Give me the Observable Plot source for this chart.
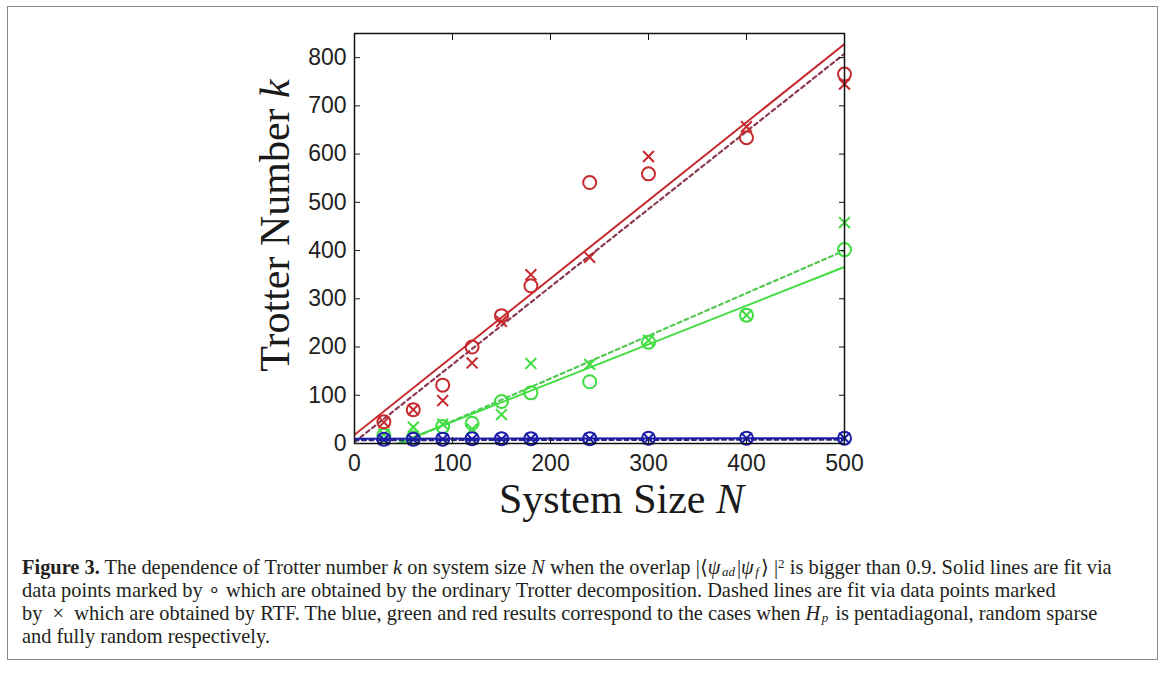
<!DOCTYPE html>
<html><head><meta charset="utf-8">
<script src="https://cdn.jsdelivr.net/npm/d3@7"></script>
<script src="https://cdn.jsdelivr.net/npm/@observablehq/plot@0.6"></script>
<style>
html,body{margin:0;padding:0;background:#fff;}
body{width:1168px;height:673px;position:relative;overflow:hidden;}
#border{position:absolute;left:7px;top:6px;width:1151px;height:654px;border:1.5px solid #8a8a8a;box-sizing:border-box;}
#chart{position:absolute;left:0;top:0;}
#caption{position:absolute;left:22px;top:556px;font-family:"Liberation Serif","Times New Roman",serif;font-size:19px;line-height:23px;color:#231f20;white-space:nowrap;}
#caption .ln{display:block;}
#caption .ln span.w{display:inline-block;}
sub,sup{font-size:64%;line-height:0;}
sub{vertical-align:-0.15em;margin-left:0.5px;margin-right:2px;}
sup{vertical-align:0.45em;}
i.g{padding-right:1px;}
</style></head><body>
<div id="border"></div>
<div id="chart"></div>
<div id="caption">
<div class="ln"><span class="w" id="l1"><b>Figure 3.</b> The dependence of Trotter number <i>k</i> on system size <i>N</i> when the overlap |⟨<i class="g">ψ</i><sub><i>ad</i></sub>|<i class="g">ψ</i><sub><i>f</i></sub>⟩ |<sup>2</sup> is bigger than 0.9. Solid lines are fit via</span></div>
<div class="ln"><span class="w">data points marked by ∘ which are obtained by the ordinary Trotter decomposition. Dashed lines are fit via data points marked</span></div>
<div class="ln"><span class="w">by &nbsp;×&nbsp; which are obtained by RTF. The blue, green and red results correspond to the cases when <i class="g">H</i><sub><i>p</i></sub> is pentadiagonal, random sparse</span></div>
<div class="ln"><span class="w">and fully random respectively.</span></div>
</div>
<script>
// ---- data ----
const N = [30, 60, 90, 120, 150, 180, 240, 300, 400, 500];
const redTrotter   = [45, 70, 121, 200, 265, 327, 541, 559, 634, 766];
const redRTF       = [44, 70, 89, 167, 253, 350, 386, 595, 657, 745];
const greenTrotter = [17, 12, 35, 42, 87, 105, 128, 210, 266, 402];
const greenRTF     = [19, 34, 40, 30, 60, 166, 164, 214, 266, 458];
const blueTrotter  = [9, 9, 9, 10, 10, 10, 10, 11, 11, 11];
const blueRTF      = [8, 8, 9, 9, 9, 10, 10, 10, 11, 11];

const fitX = [0, 500];
const redSolidFit   = [18, 828];
const redDashedFit  = [3, 808];
const greenSolidFit = [-35, 366];
const greenDashedFit= [-42, 400];
const blueSolidFit  = [10, 11];
const blueDashedFit = [7, 8];

const xTicks = [0, 100, 200, 300, 400, 500];
const yTicks = [0, 100, 200, 300, 400, 500, 600, 700, 800];
const xLabel = "System Size N";
const yLabel = "Trotter Number k";

const RED = "#c62a2f", RED_D = "#8c3a52";
const GREEN = "#3fdc3f", GREEN_D = "#55c955";
const BLUE = "#1c1caa", BLUE_D = "#26267a";

const pts = (ys) => N.map((n, i) => ({n, k: ys[i]}));
const fit = (ys) => fitX.map((x, i) => ({x, y: ys[i]}));

function series(tro, rtf, solid, dashed, c, cd) {
  return [
    Plot.line(fit(dashed), {x: "x", y: "y", stroke: cd, strokeWidth: 2.2, strokeDasharray: "4,3.5", clip: true}),
    Plot.line(fit(solid), {x: "x", y: "y", stroke: c, strokeWidth: 2, clip: true}),
    Plot.dot(pts(tro), {x: "n", y: "k", r: 6.5, symbol: "circle", stroke: c, strokeWidth: 2, fill: "none"}),
    Plot.dot(pts(rtf), {x: "n", y: "k", r: 5, symbol: "times", stroke: c, strokeWidth: 2})
  ];
}

const tickFont = {fontSize: 23, fontFamily: "'Liberation Sans', Arial, Helvetica, sans-serif", color: "#1e1e1e"};

const svg = Plot.plot({
  width: 1168, height: 540,
  marginLeft: 354, marginRight: 324, marginTop: 33, marginBottom: 97,
  x: {domain: [0, 500]},
  y: {domain: [0, 850]},
  style: {background: "transparent", overflow: "visible"},
  marks: [
    ...series(greenTrotter, greenRTF, greenSolidFit, greenDashedFit, GREEN, GREEN_D),
    ...series(redTrotter, redRTF, redSolidFit, redDashedFit, RED, RED_D),
    ...series(blueTrotter, blueRTF, blueSolidFit, blueDashedFit, BLUE, BLUE_D),
    Plot.frame({stroke: "#111", strokeWidth: 1.5}),
    Plot.axisX({ticks: xTicks, tickSize: -6, tickPadding: 17, label: null, ...tickFont}),
    Plot.axisX({anchor: "top", ticks: xTicks, tickSize: -6, tickFormat: () => "", label: null, color: "#111"}),
    Plot.axisY({ticks: yTicks, tickSize: -6, tickPadding: 14, label: null, ...tickFont}),
    Plot.axisY({anchor: "right", ticks: yTicks, tickSize: -6, tickFormat: () => "", label: null, color: "#111"}),
    Plot.text([yLabel], {frameAnchor: "left", dx: -66, dy: -13, rotate: -90, textAnchor: "middle", lineAnchor: "bottom", fontSize: 42, fontFamily: "'Liberation Serif', 'Times New Roman', serif", fill: "#1a1a1a"}),
    Plot.text([xLabel], {frameAnchor: "bottom", dx: 22, dy: 69, textAnchor: "middle", lineAnchor: "bottom", fontSize: 42, fontFamily: "'Liberation Serif', 'Times New Roman', serif", fill: "#1a1a1a"})
  ]
});
document.getElementById("chart").appendChild(svg);

// italicise the variable in each axis title
d3.select(svg).selectAll("text").each(function() {
  const t = this.textContent;
  if (t === yLabel || t === xLabel) {
    const head = t.slice(0, -1), v = t.slice(-1);
    this.textContent = "";
    d3.select(this).append("tspan").text(head);
    d3.select(this).append("tspan").attr("font-style", "italic").text(v);
  }
});

// fit caption font so first line spans like the reference
const l1 = document.getElementById("l1");
const w = l1.getBoundingClientRect().width;
const cap = document.getElementById("caption");
const fs = 19 * 1090 / w;
cap.style.fontSize = fs.toFixed(2) + "px";
</script>
</body></html>
